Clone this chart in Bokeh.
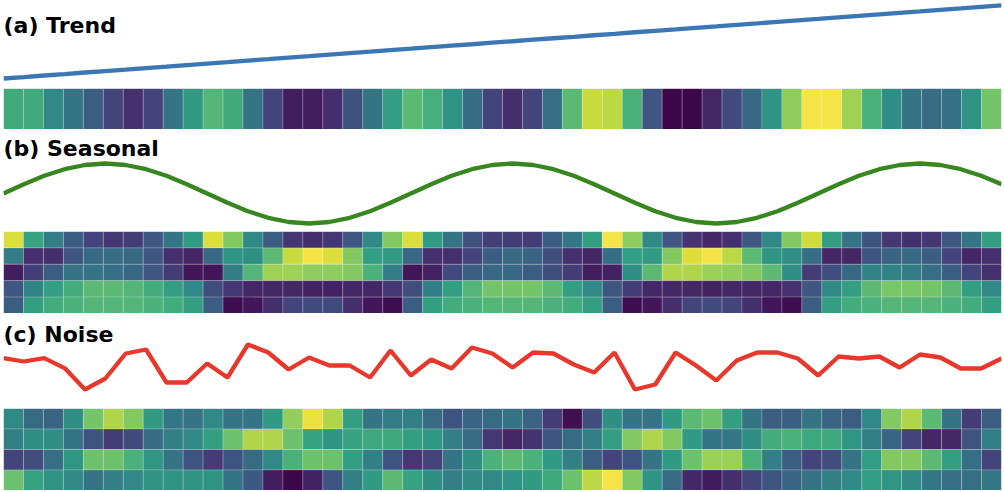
from bokeh.plotting import figure
from bokeh.layouts import column
from bokeh.models import Range1d, Label, ColumnDataSource
from bokeh.transform import linear_cmap
from bokeh.palettes import Viridis256
from bokeh.embed import file_html
from bokeh.resources import INLINE

# ---------------- data ----------------
steps = list(range(50))

trend_line = [0.000, 0.020, 0.041, 0.061, 0.082, 0.102, 0.122, 0.143, 0.163, 0.184,
              0.204, 0.224, 0.245, 0.265, 0.286, 0.306, 0.327, 0.347, 0.367, 0.388,
              0.408, 0.429, 0.449, 0.469, 0.490, 0.510, 0.531, 0.551, 0.571, 0.592,
              0.612, 0.633, 0.653, 0.673, 0.694, 0.714, 0.735, 0.755, 0.776, 0.796,
              0.816, 0.837, 0.857, 0.878, 0.898, 0.918, 0.939, 0.959, 0.980, 1.000]

trend_heat = [0.65, 0.65, 0.50, 0.40, 0.30, 0.20, 0.13, 0.20, 0.40, 0.58,
              0.70, 0.65, 0.40, 0.20, 0.07, 0.07, 0.12, 0.25, 0.40, 0.60,
              0.72, 0.67, 0.55, 0.37, 0.20, 0.12, 0.20, 0.38, 0.72, 0.92,
              0.90, 0.68, 0.27, 0.00, 0.00, 0.10, 0.22, 0.35, 0.55, 0.82,
              1.00, 1.00, 0.85, 0.68, 0.52, 0.40, 0.37, 0.39, 0.55, 0.77]

seasonal_line = [0.00, 0.31, 0.59, 0.81, 0.95, 1.00, 0.95, 0.81, 0.59, 0.31,
                 0.00, -0.31, -0.59, -0.81, -0.95, -1.00, -0.95, -0.81, -0.59, -0.31,
                 0.00, 0.31, 0.59, 0.81, 0.95, 1.00, 0.95, 0.81, 0.59, 0.31,
                 0.00, -0.31, -0.59, -0.81, -0.95, -1.00, -0.95, -0.81, -0.59, -0.31,
                 0.00, 0.31, 0.59, 0.81, 0.95, 1.00, 0.95, 0.81, 0.59, 0.31]

seasonal_row0 = [0.95, 0.62, 0.45, 0.30, 0.20, 0.15, 0.17, 0.27, 0.40, 0.58,
                 0.95, 0.80, 0.50, 0.30, 0.15, 0.12, 0.15, 0.27, 0.50, 0.80,
                 0.95, 0.58, 0.40, 0.25, 0.18, 0.17, 0.17, 0.30, 0.42, 0.60,
                 1.00, 0.82, 0.50, 0.27, 0.14, 0.10, 0.13, 0.27, 0.50, 0.80,
                 0.93, 0.60, 0.40, 0.26, 0.15, 0.13, 0.15, 0.27, 0.40, 0.60]
seasonal_row1 = [0.45, 0.13, 0.12, 0.27, 0.35, 0.38, 0.35, 0.27, 0.13, 0.10,
                 0.35, 0.55, 0.53, 0.72, 0.92, 1.00, 0.95, 0.80, 0.60, 0.58,
                 0.35, 0.13, 0.13, 0.20, 0.30, 0.35, 0.33, 0.24, 0.13, 0.10,
                 0.38, 0.60, 0.58, 0.80, 0.96, 1.00, 0.90, 0.72, 0.55, 0.53,
                 0.38, 0.10, 0.10, 0.26, 0.33, 0.35, 0.30, 0.20, 0.10, 0.13]
seasonal_row2 = [0.07, 0.18, 0.30, 0.40, 0.40, 0.38, 0.35, 0.27, 0.17, 0.05,
                 0.05, 0.45, 0.70, 0.85, 0.85, 0.82, 0.82, 0.80, 0.68, 0.45,
                 0.05, 0.08, 0.22, 0.30, 0.35, 0.35, 0.30, 0.24, 0.17, 0.07,
                 0.08, 0.53, 0.72, 0.88, 0.88, 0.84, 0.83, 0.80, 0.72, 0.53,
                 0.17, 0.24, 0.35, 0.48, 0.48, 0.44, 0.38, 0.30, 0.20, 0.13]
seasonal_row3 = [0.27, 0.48, 0.60, 0.66, 0.72, 0.72, 0.70, 0.66, 0.60, 0.50,
                 0.24, 0.15, 0.10, 0.10, 0.10, 0.08, 0.08, 0.10, 0.10, 0.15,
                 0.24, 0.45, 0.60, 0.70, 0.77, 0.77, 0.77, 0.72, 0.60, 0.50,
                 0.27, 0.17, 0.10, 0.10, 0.10, 0.08, 0.10, 0.10, 0.10, 0.14,
                 0.27, 0.50, 0.60, 0.72, 0.78, 0.78, 0.77, 0.72, 0.60, 0.50]
seasonal_row4 = [0.30, 0.60, 0.66, 0.68, 0.70, 0.70, 0.70, 0.68, 0.66, 0.60,
                 0.30, 0.02, 0.05, 0.12, 0.20, 0.22, 0.22, 0.12, 0.05, 0.02,
                 0.30, 0.60, 0.66, 0.68, 0.70, 0.70, 0.70, 0.68, 0.66, 0.60,
                 0.30, 0.02, 0.05, 0.12, 0.20, 0.22, 0.20, 0.12, 0.05, 0.02,
                 0.30, 0.60, 0.66, 0.68, 0.70, 0.70, 0.70, 0.68, 0.66, 0.60]

noise_line = [0.87, 0.70, 0.87, 0.37, -0.70, -0.15, 1.10, 1.30, -0.35, -0.35,
              0.60, -0.10, 1.55, 1.15, 0.30, 0.90, 0.50, 0.50, -0.10, 1.25,
              0.00, 0.80, 0.35, 1.40, 1.10, 0.40, 1.15, 1.10, 0.55, 0.15,
              1.15, -0.70, -0.45, 1.15, 0.50, -0.25, 0.75, 1.15, 1.15, 0.85,
              0.00, 0.95, 0.85, 0.95, 0.40, 1.05, 0.90, 0.35, 0.35, 0.85]

noise_row0 = [0.50, 0.36, 0.33, 0.53, 0.77, 0.88, 0.80, 0.58, 0.42, 0.40,
              0.50, 0.40, 0.40, 0.58, 0.83, 0.98, 0.88, 0.60, 0.40, 0.44,
              0.46, 0.36, 0.26, 0.33, 0.36, 0.40, 0.33, 0.17, 0.03, 0.24,
              0.53, 0.40, 0.40, 0.58, 0.72, 0.76, 0.60, 0.40, 0.30, 0.30,
              0.40, 0.33, 0.30, 0.50, 0.80, 0.88, 0.72, 0.40, 0.17, 0.30]
noise_row1 = [0.46, 0.53, 0.53, 0.40, 0.26, 0.17, 0.22, 0.36, 0.46, 0.50,
              0.60, 0.76, 0.88, 0.88, 0.76, 0.62, 0.55, 0.62, 0.64, 0.64,
              0.60, 0.56, 0.46, 0.36, 0.15, 0.10, 0.14, 0.26, 0.36, 0.46,
              0.60, 0.80, 0.88, 0.80, 0.58, 0.40, 0.42, 0.53, 0.66, 0.68,
              0.64, 0.64, 0.56, 0.46, 0.33, 0.20, 0.10, 0.10, 0.26, 0.46]
noise_row2 = [0.20, 0.24, 0.38, 0.56, 0.76, 0.76, 0.68, 0.56, 0.40, 0.26,
              0.17, 0.26, 0.36, 0.50, 0.68, 0.76, 0.76, 0.60, 0.46, 0.26,
              0.15, 0.20, 0.40, 0.53, 0.68, 0.72, 0.68, 0.58, 0.46, 0.30,
              0.20, 0.26, 0.40, 0.58, 0.76, 0.84, 0.84, 0.68, 0.46, 0.30,
              0.20, 0.24, 0.40, 0.60, 0.80, 0.80, 0.72, 0.60, 0.38, 0.20]
noise_row3 = [0.76, 0.62, 0.55, 0.50, 0.40, 0.46, 0.50, 0.55, 0.55, 0.55,
              0.55, 0.40, 0.28, 0.07, 0.00, 0.08, 0.26, 0.46, 0.58, 0.72,
              0.62, 0.53, 0.46, 0.50, 0.50, 0.55, 0.58, 0.64, 0.76, 0.90,
              1.00, 0.80, 0.55, 0.36, 0.10, 0.06, 0.12, 0.20, 0.26, 0.33,
              0.40, 0.46, 0.50, 0.60, 0.56, 0.50, 0.42, 0.38, 0.38, 0.42]

titles = ["(a) Trend", "(b) Seasonal", "(c) Noise"]
line_colors = ["#3a77b4", "#37861f", "#e8382b"]

# ---------------- style ----------------
W = 1002
FONT = "DejaVu Sans"


def soften(hex_color, k=0.2):
    r = int(hex_color[1:3], 16)
    g = int(hex_color[3:5], 16)
    b = int(hex_color[5:7], 16)
    lum = 0.299 * r + 0.587 * g + 0.114 * b
    r, g, b = (int(round(c + k * (lum - c))) for c in (r, g, b))
    return "#%02x%02x%02x" % (r, g, b)


PALETTE = [soften(c) for c in Viridis256]


def blank(h, xr, yr):
    p = figure(width=W, height=h, x_range=xr, y_range=yr,
               output_backend="svg", toolbar_location=None,
               x_axis_location=None, y_axis_location=None, min_border=0)
    p.min_border_left = 3
    p.min_border_right = 1
    p.xgrid.grid_line_color = None
    p.ygrid.grid_line_color = None
    p.outline_line_color = None
    p.background_fill_color = "white"
    p.border_fill_color = "white"
    return p


def line_fig(h, values, y0, y1, color, title, title_y):
    p = blank(h, Range1d(0, 49), Range1d(y0, y1))
    p.line(steps, values, line_color=color, line_width=4.3)
    p.add_layout(Label(x=0, y=title_y, x_units="screen", y_units="screen",
                       text=title, text_font=FONT, text_font_style="bold",
                       text_font_size="22px", text_color="black",
                       text_baseline="alphabetic"))
    return p


def heat_fig(h, rows):
    xs, ys, vs = [], [], []
    for r, row in enumerate(rows):
        for c, v in enumerate(row):
            xs.append(c)
            ys.append(r + 0.5)
            vs.append(v)
    src = ColumnDataSource(dict(x=xs, y=ys, v=vs))
    p = blank(h, Range1d(-0.5, 49.5), Range1d(len(rows), 0))
    p.rect(x="x", y="y", width=1, height=1, source=src,
           fill_color=linear_cmap("v", PALETTE, 0, 1), fill_alpha=1.0,
           line_color="white", line_alpha=0.2, line_width=1)
    return p


pa = line_fig(88, trend_line, -0.137, 1.068, line_colors[0], titles[0], 63)
ha = heat_fig(41, [trend_heat])
pb = line_fig(102, seasonal_line, -1.267, 2.133, line_colors[1], titles[1], 83)
hb = heat_fig(82, [seasonal_row0, seasonal_row1, seasonal_row2,
                   seasonal_row3, seasonal_row4])
pc = line_fig(95, noise_line, -1.65, 3.10, line_colors[2], titles[2], 74)
hc = heat_fig(82, [noise_row0, noise_row1, noise_row2, noise_row3])

layout = column(pa, ha, pb, hb, pc, hc, spacing=0)

open("out.html", "w").write(file_html(layout, INLINE))
